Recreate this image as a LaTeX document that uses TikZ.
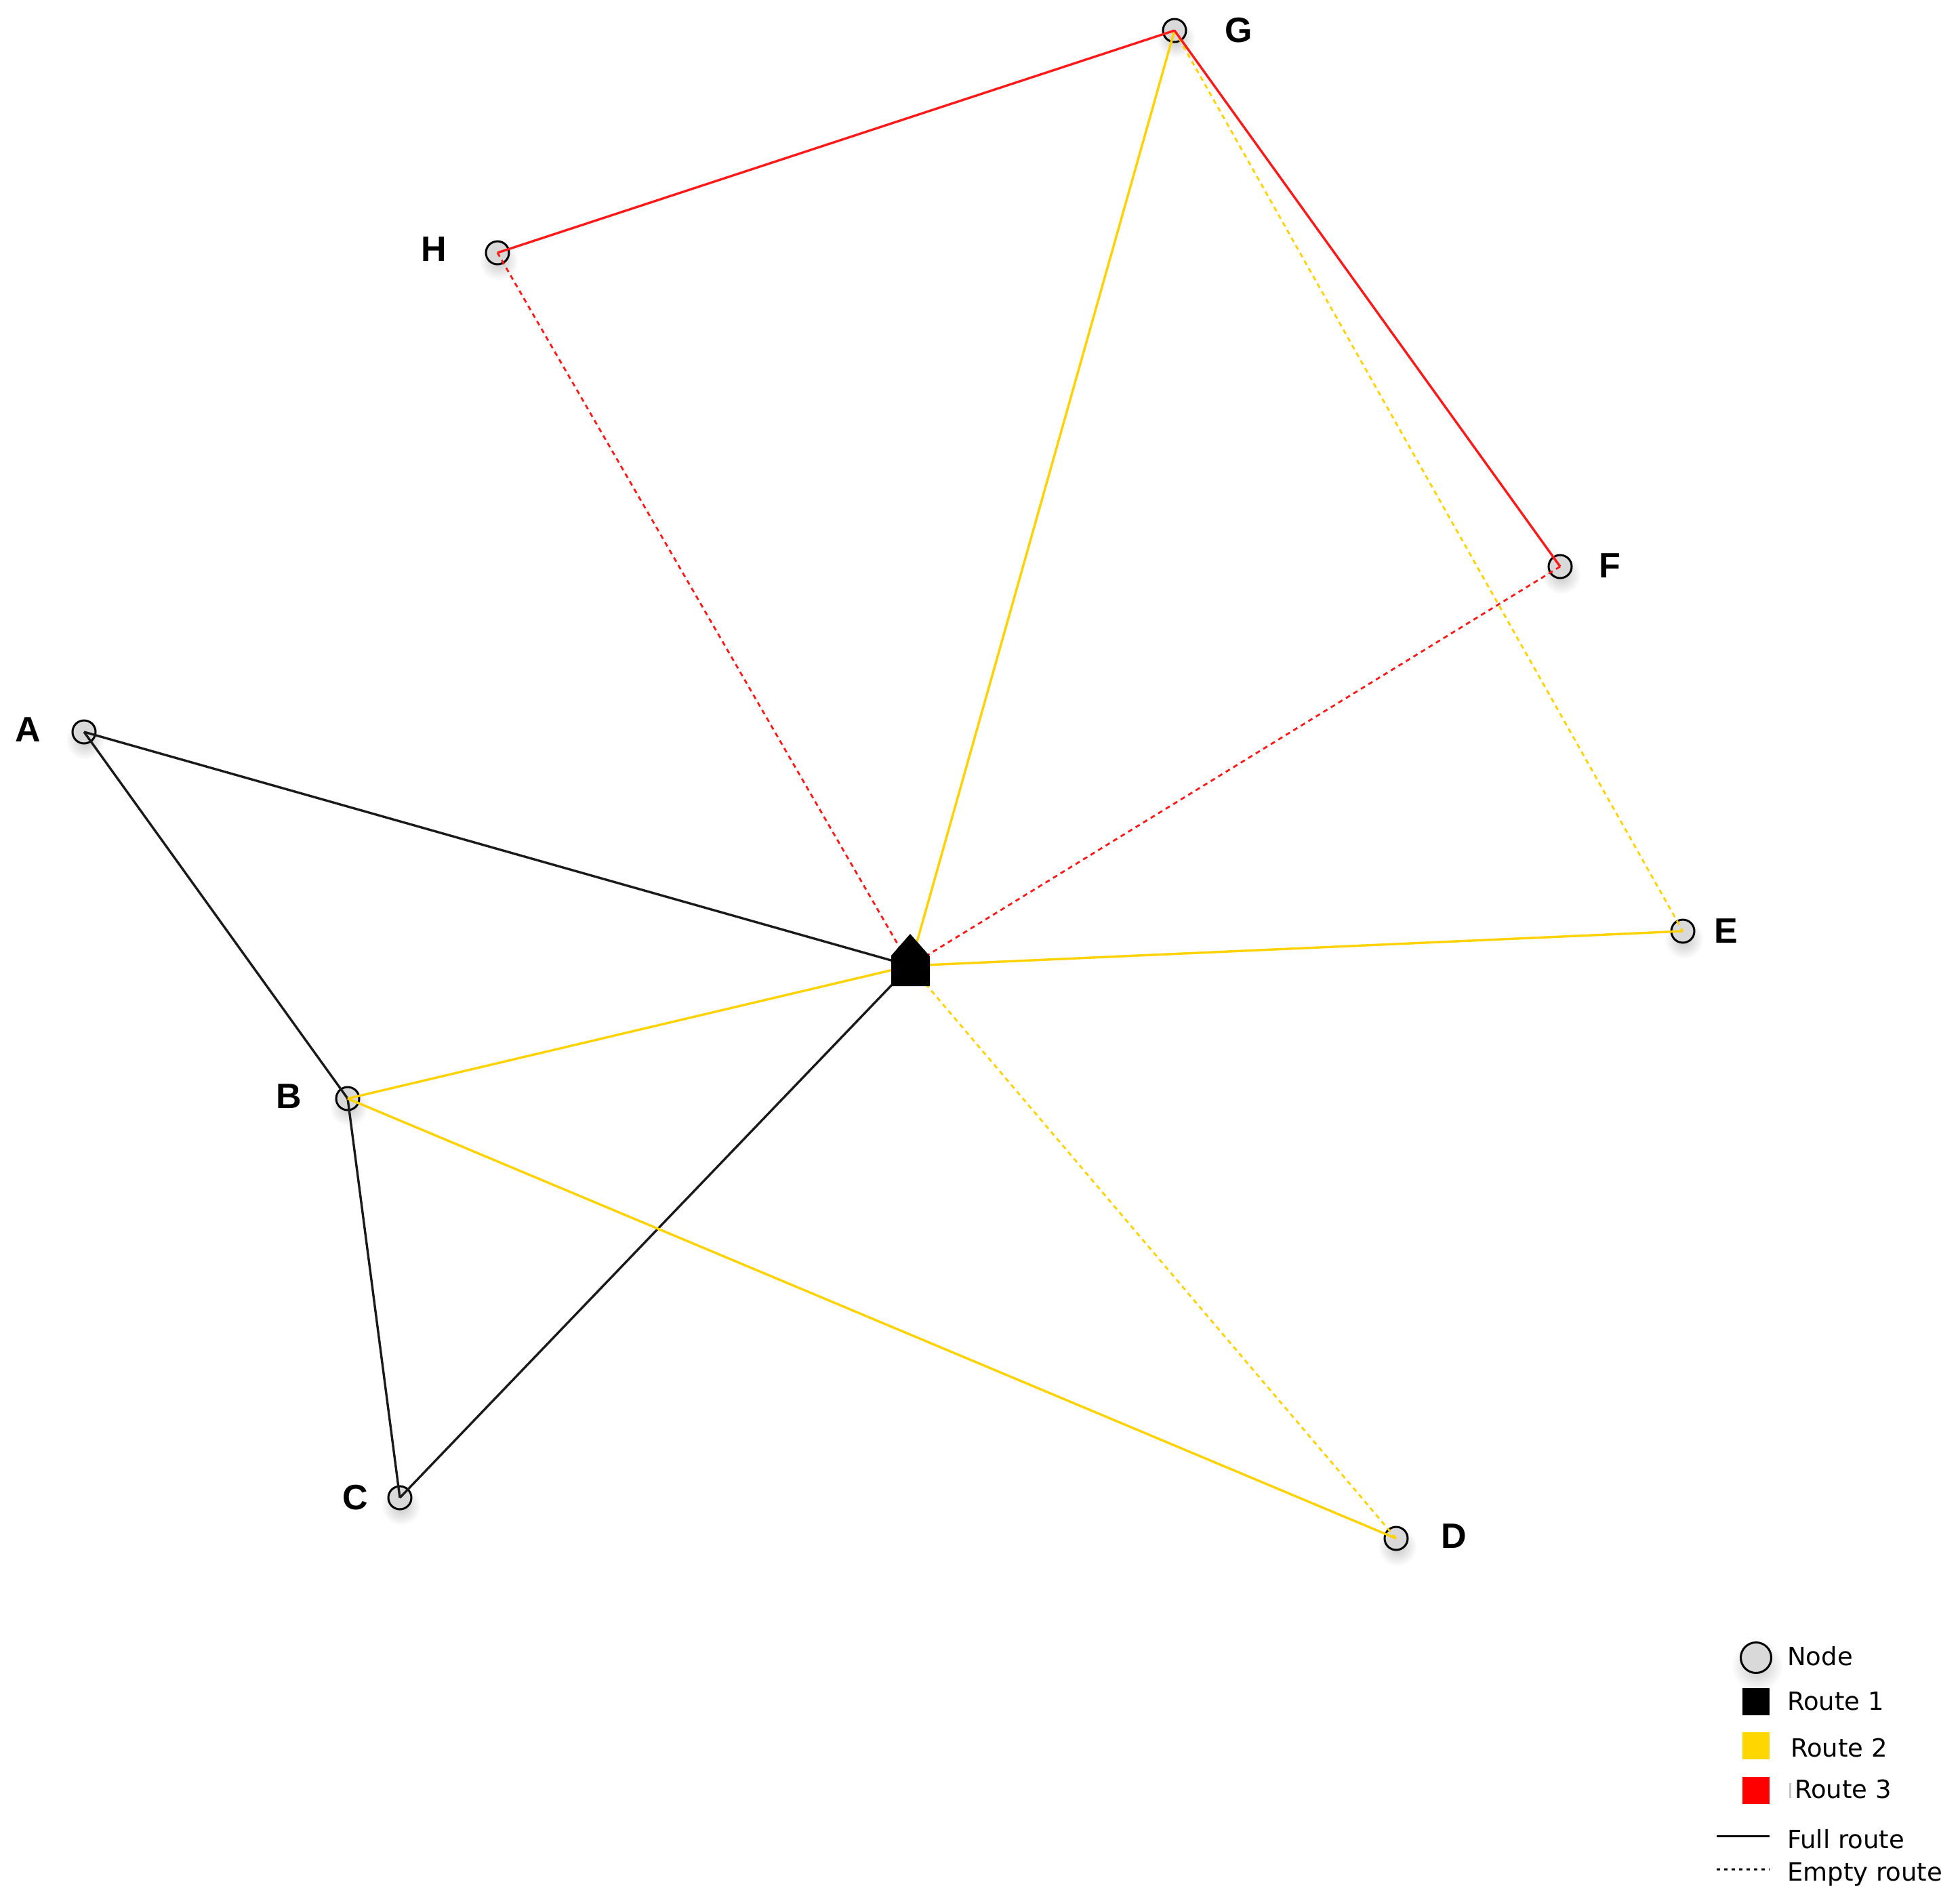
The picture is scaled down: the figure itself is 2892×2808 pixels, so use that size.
\documentclass[tikz,border=0pt]{standalone}
\usepackage{fontspec}
\setmainfont{Liberation Sans}
\newfontfamily\legfont{DejaVu Sans}
\usetikzlibrary{shadows,fadings}
\tikzfading[name=softcirc, inner color=transparent!0, outer color=transparent!100]
\definecolor{nodegray}{HTML}{D9D9D9}
\definecolor{rtyellow}{HTML}{FFD200}
\definecolor{rtred}{HTML}{FF1A1A}
\definecolor{rtblack}{HTML}{1A1A1A}
\definecolor{legyellow}{HTML}{FFD700}
\definecolor{legred}{HTML}{FF0000}
\begin{document}
\begin{tikzpicture}[x=1pt,y=-1pt,
  vtx/.style={circle, draw=black, line width=3pt, fill=nodegray, minimum size=34pt, inner sep=0pt,
    circular drop shadow={shadow xshift=1pt, shadow yshift=-7pt, shadow scale=1.7, opacity=0.45, path fading=softcirc}},
  lab/.style={font=\fontsize{52}{52}\selectfont\bfseries, text=black, inner sep=0pt},
  full/.style={line width=3.4pt},
  empty/.style={line width=2.8pt, dash pattern=on 7pt off 6pt},
  r1/.style={draw=rtblack},
  r2/.style={draw=rtyellow},
  r3/.style={draw=rtred},
  legtext/.style={font=\legfont\fontsize{37}{40}\selectfont, anchor=base west, inner sep=0pt},
  legsq/.style={minimum size=40pt, inner sep=0pt},
]
\useasboundingbox[fill=white] (0,0) rectangle (2892,2808);

% customer nodes
\node[vtx] (A) at (124,1080) {};
\node[vtx] (B) at (513,1621) {};
\node[vtx] (C) at (590,2210) {};
\node[vtx] (D) at (2060,2270) {};
\node[vtx] (E) at (2483,1374) {};
\node[vtx] (F) at (2302,836) {};
\node[vtx] (G) at (1733,45) {};
\node[vtx] (H) at (734,373) {};
\coordinate (depot) at (1343,1425);

% labels
\node[lab] (lA) at (41,1077) {A};
\node[lab] (lB) at (426,1618) {B};
\node[lab] (lC) at (524,2210) {C};
\node[lab] (lD) at (2145,2267) {D};
\node[lab] (lE) at (2547,1374) {E};
\node[lab] (lF) at (2375,835) {F};
\node[lab] (lG) at (1828,45) {G};
\node[lab] (lH) at (640,368) {H};

% Route 1
\draw[full,r1] (A.center) -- (depot);
\draw[full,r1] (A.center) -- (B.center);
\draw[full,r1] (B.center) -- (C.center);
\draw[full,r1] (C.center) -- (depot);
% Route 2
\draw[full,r2] (depot) -- (G.center);
\draw[empty,r2] (G.center) -- (E.center);
\draw[full,r2] (depot) -- (E.center);
\draw[full,r2] (depot) -- (B.center);
\draw[full,r2] (B.center) -- (D.center);
\draw[empty,r2] (D.center) -- (depot);
% Route 3
\draw[empty,r3] (depot) -- (H.center);
\draw[full,r3] (H.center) -- (G.center);
\draw[full,r3] (G.center) -- (F.center);
\draw[empty,r3] (F.center) -- (depot);

% depot
\fill[black] (1315,1455) -- (1315,1410) -- (1343,1378) -- (1372,1411) -- (1372,1455) -- cycle;

% legend
\node[vtx, minimum size=45pt] (legnode) at (2591,2446) {};
\node[legtext] (tnode) at (2637,2457) {Node};
\node[legsq, fill=black] (sq1) at (2591,2511) {};
\node[legtext] (t1) at (2637,2523) {Route 1};
\node[legsq, fill=legyellow] (sq2) at (2591,2576) {};
\node[legtext] (t2) at (2642,2592) {Route 2};
\node[legsq, fill=legred] (sq3) at (2591,2642) {};
\fill[gray!45] (2640,2631) rectangle (2643,2653);
\node[legtext] (t3) at (2648,2653) {Route 3};
\coordinate (fl1) at (2533,2709);
\coordinate (fl2) at (2611,2709);
\draw[line width=3pt, black] (fl1) -- (fl2);
\node[legtext] (tf) at (2637,2727) {Full route};
\coordinate (el1) at (2533,2758);
\coordinate (el2) at (2611,2758);
\draw[line width=3pt, black, dash pattern=on 5pt off 6pt] (el1) -- (el2);
\node[legtext] (te) at (2637,2775) {Empty route};
\end{tikzpicture}
\end{document}
